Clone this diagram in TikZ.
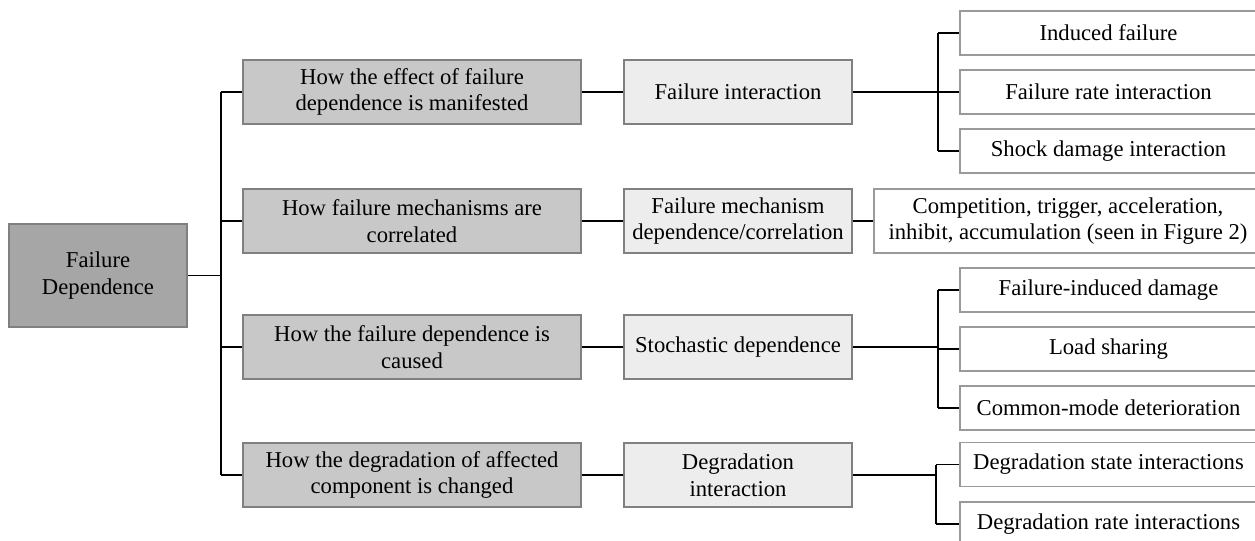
\documentclass[tikz,border=0pt]{standalone}
\usepackage{fontspec}
\setmainfont{Liberation Serif}
\definecolor{rootfill}{HTML}{A6A6A6}
\definecolor{lonefill}{HTML}{C8C8C8}
\definecolor{ltwofill}{HTML}{EDEDED}
\definecolor{boxline}{HTML}{808080}
\definecolor{leafline}{HTML}{9A9A9A}
\tikzset{
  basebox/.style={draw=boxline, line width=0.8pt, align=center, inner sep=0pt,
    font=\fontsize{17}{20}\selectfont, text=black},
  rootbox/.style={basebox, fill=rootfill, minimum width=178*0.75pt, minimum height=103*0.75pt},
  lonebox/.style={basebox, fill=lonefill, minimum width=338*0.75pt, minimum height=64*0.75pt},
  ltwobox/.style={basebox, fill=ltwofill, minimum width=228*0.75pt, minimum height=64*0.75pt},
  leafbox/.style={basebox, draw=leafline, fill=white, minimum width=297*0.75pt, minimum height=44*0.75pt},
  compbox/.style={basebox, draw=leafline, fill=white, minimum width=388*0.75pt, minimum height=64*0.75pt},
  conn/.style={draw=black, line width=1.1pt},
}
\begin{document}
\begin{tikzpicture}[x=0.75pt, y=-0.75pt]
\useasboundingbox (0,0) rectangle (1255,540);
\begin{scope}
\clip (0,0) rectangle (1255,540);
% root
\node[rootbox] (root) at (98,275.5) {Failure\\Dependence};
% level 1
\node[lonebox] (la) at (412,92) {How the effect of failure\\dependence is manifested};
\node[lonebox] (lb) at (412,221) {How failure mechanisms are\\correlated};
\node[lonebox] (lc) at (412,347) {How the failure dependence is\\caused};
\node[lonebox] (ld) at (412,475) {How the degradation of affected\\component is changed};
% level 2
\node[ltwobox] (ma) at (738,92) {Failure interaction};
\node[ltwobox] (mb) at (738,221) {Failure mechanism\\dependence/correlation};
\node[ltwobox] (mc) at (738,347) {Stochastic dependence};
\node[ltwobox] (md) at (738,475) {Degradation\\interaction};
% level 3
\node[leafbox] (a1) at (1108.5,33) {Induced failure};
\node[leafbox] (a2) at (1108.5,92) {Failure rate interaction};
\node[leafbox] (a3) at (1108.5,151) {Shock damage interaction};
\node[compbox] (b1) at (1068,221) {Competition, trigger, acceleration,\\inhibit, accumulation (seen in Figure 2)};
\node[leafbox] (c1) at (1108.5,290) {Failure-induced damage};
\node[leafbox] (c2) at (1108.5,349) {Load sharing};
\node[leafbox] (c3) at (1108.5,408) {Common-mode deterioration};
\node[leafbox] (d1) at (1108.5,464.5) {Degradation state interactions};
\node[leafbox] (d2) at (1108.5,524) {Degradation rate interactions};
% junction coordinates
\coordinate (tr) at (221,0);
\coordinate (ba) at (938,0);
\coordinate (bc) at (938,0);
\coordinate (bd) at (936,0);
% trunk
\draw[conn] (root.east) -- (root.east -| tr);
\draw[conn] (la.west -| tr) -- (ld.west -| tr);
\foreach \n in {la,lb,lc,ld} \draw[conn] (\n.west -| tr) -- (\n.west);
% level 1 -> level 2
\draw[conn] (la) -- (ma);
\draw[conn] (lb) -- (mb);
\draw[conn] (lc) -- (mc);
\draw[conn] (ld) -- (md);
% group a
\draw[conn] (ma.east) -- (ma.east -| ba);
\draw[conn] (a1.west -| ba) -- (a3.west -| ba);
\foreach \n in {a1,a2,a3} \draw[conn] (\n.west -| ba) -- (\n.west);
% group b
\draw[conn] (mb.east) -- (b1.west);
% group c
\draw[conn] (mc.east) -- (mc.east -| bc);
\draw[conn] (c1.west -| bc) -- (c3.west -| bc);
\foreach \n in {c1,c2,c3} \draw[conn] (\n.west -| bc) -- (\n.west);
% group d
\draw[conn] (md.east) -- (md.east -| bd);
\draw[conn] (d1.west -| bd) -- (d2.west -| bd);
\foreach \n in {d1,d2} \draw[conn] (\n.west -| bd) -- (\n.west);
\end{scope}
\end{tikzpicture}
\end{document}
